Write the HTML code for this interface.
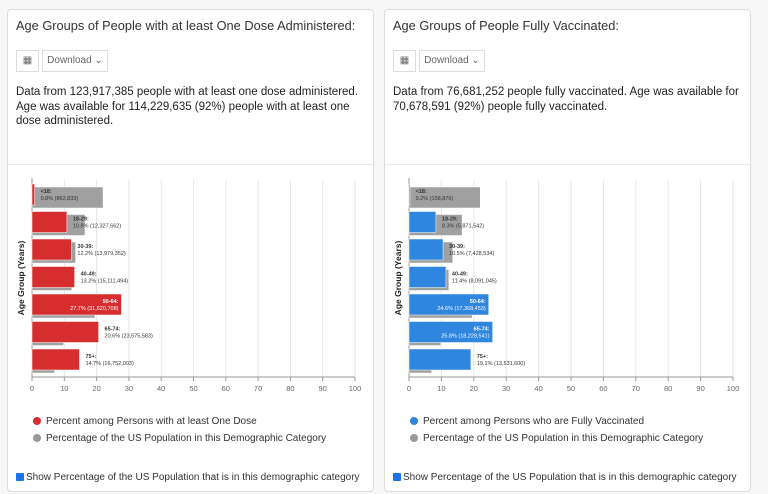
<!DOCTYPE html>
<html><head><meta charset="utf-8"><style>
body{margin:0;width:768px;height:494px;background:#f7f7f7;font-family:"Liberation Sans",sans-serif;position:relative;overflow:hidden}
.p{position:absolute;top:9px;width:367px;height:483px;background:#fff;border:1px solid #ddd;border-radius:4px;box-sizing:border-box}
.t{position:absolute;left:8px;top:8px;font-size:12.8px;color:#333;white-space:nowrap}
.b{position:absolute;top:40px;height:22px;border:1px solid #ddd;box-sizing:border-box;font-size:10px;color:#666;line-height:20px;text-align:center}
.d{position:absolute;left:8px;top:75px;font-size:11.5px;line-height:14.7px;color:#222;white-space:nowrap}
.hr{position:absolute;left:0;right:0;top:154px;border-top:1px solid #e8e8e8}
.lg{position:absolute;left:38px;font-size:10px;color:#333}
.dot{position:absolute;left:-13px;top:1px;width:8px;height:8px;border-radius:50%}
.cb{position:absolute;left:8px;top:462px;font-size:10px;color:#333}
.cb i{display:inline-block;width:8px;height:8px;background:#1a73e8;border-radius:1px;margin-right:2px;vertical-align:-1px}
svg{position:absolute;left:0;top:0}
</style></head><body>
<div class="p" style="left:7px">
<div class="t">Age Groups of People with at least One Dose Administered:</div>
<div class="b" style="left:8px;width:23px">&#9638;</div>
<div class="b" style="left:34px;width:66px">Download &#8964;</div>
<div class="d">Data from 123,917,385 people with at least one dose administered.<br>Age was available for 114,229,635 (92%) people with at least one<br>dose administered.</div>
<div class="hr"></div>
<div class="lg" style="top:406px"><span class="dot" style="background:#d62e2f"></span>Percent among Persons with at least One Dose</div>
<div class="lg" style="top:423px"><span class="dot" style="background:#999"></span>Percentage of the US Population in this Demographic Category</div>
<div class="cb"><i></i>Show Percentage of the US Population that is in this demographic category</div>
</div>
<div class="p" style="left:384px">
<div class="t">Age Groups of People Fully Vaccinated:</div>
<div class="b" style="left:8px;width:23px">&#9638;</div>
<div class="b" style="left:34px;width:66px">Download &#8964;</div>
<div class="d">Data from 76,681,252 people fully vaccinated. Age was available for<br>70,678,591 (92%) people fully vaccinated.</div>
<div class="hr"></div>
<div class="lg" style="top:406px"><span class="dot" style="background:#2e86de"></span>Percent among Persons who are Fully Vaccinated</div>
<div class="lg" style="top:423px"><span class="dot" style="background:#999"></span>Percentage of the US Population in this Demographic Category</div>
<div class="cb"><i></i>Show Percentage of the US Population that is in this demographic category</div>
</div>
<svg id="s" width="768" height="494" font-family="Liberation Sans, sans-serif"></svg>
<script>
var s=document.getElementById('s'),h='';
function chart(x0,sc,col,vals,pops,labels,inside){
 for(var i=0;i<=10;i++){var x=x0+i*10*sc;
  if(i>0)h+='<line x1="'+x+'" y1="180" x2="'+x+'" y2="377" stroke="#e6e6e6" stroke-width="1"/>';
  h+='<line x1="'+x+'" y1="377" x2="'+x+'" y2="381" stroke="#999"/>';
  h+='<text x="'+x+'" y="391" font-size="7.5" fill="#666" text-anchor="middle">'+i*10+'</text>';}
 h+='<line x1="'+x0+'" y1="178" x2="'+x0+'" y2="377" stroke="#999"/><line x1="'+x0+'" y1="377" x2="'+(x0+100*sc)+'" y2="377" stroke="#999"/>';
 h+='<text transform="translate('+(x0-8)+',278) rotate(-90)" font-size="8.5" font-weight="bold" fill="#222" text-anchor="middle">Age Group (Years)</text>';
 for(var i=0;i<7;i++){var y=184+i*27.5;
  h+='<rect x="'+x0+'" y="'+(y+3)+'" width="'+pops[i]*sc+'" height="21" fill="#a0a0a0" stroke="#fff" stroke-width=".5"/>';
  h+='<rect x="'+x0+'" y="'+y+'" width="'+Math.max(vals[i]*sc,1)+'" height="21" fill="'+col+'" stroke="#fff" stroke-width=".5"/>';
  var e=x0+vals[i]*sc,ins=inside[i],tx=ins?e-3:e+6,an=ins?'end':'start',c=ins?'#fff':'#333';
  h+='<text x="'+tx+'" y="'+(y+9)+'" font-size="5.5" font-weight="bold" fill="'+c+'" text-anchor="'+an+'">'+labels[i][0]+':</text>';
  h+='<text x="'+tx+'" y="'+(y+16)+'" font-size="5.5" fill="'+c+'" text-anchor="'+an+'">'+labels[i][1]+'</text>';}
}
var pops=[22,16.4,13.5,12.3,19.5,9.8,7];
chart(32,3.23,'#d62e2f',[0.8,10.8,12.2,13.2,27.7,20.6,14.7],pops,
[['&lt;18','0.8% (862,833)'],['18-29','10.8% (12,327,662)'],['30-39','12.2% (13,979,352)'],['40-49','13.2% (15,111,494)'],['50-64','27.7% (31,620,708)'],['65-74','20.6% (23,575,583)'],['75+','14.7% (16,752,003)']],[0,0,0,0,1,0,0]);
chart(409,3.24,'#2e86de',[0.2,8.3,10.5,11.4,24.6,25.8,19.1],pops,
[['&lt;18','0.2% (158,876)'],['18-29','8.3% (5,871,542)'],['30-39','10.5% (7,428,534)'],['40-49','11.4% (8,091,045)'],['50-64','24.6% (17,368,453)'],['65-74','25.8% (18,228,541)'],['75+','19.1% (13,531,600)']],[0,0,0,0,1,1,0]);
s.innerHTML=h;
</script>
</body></html>
